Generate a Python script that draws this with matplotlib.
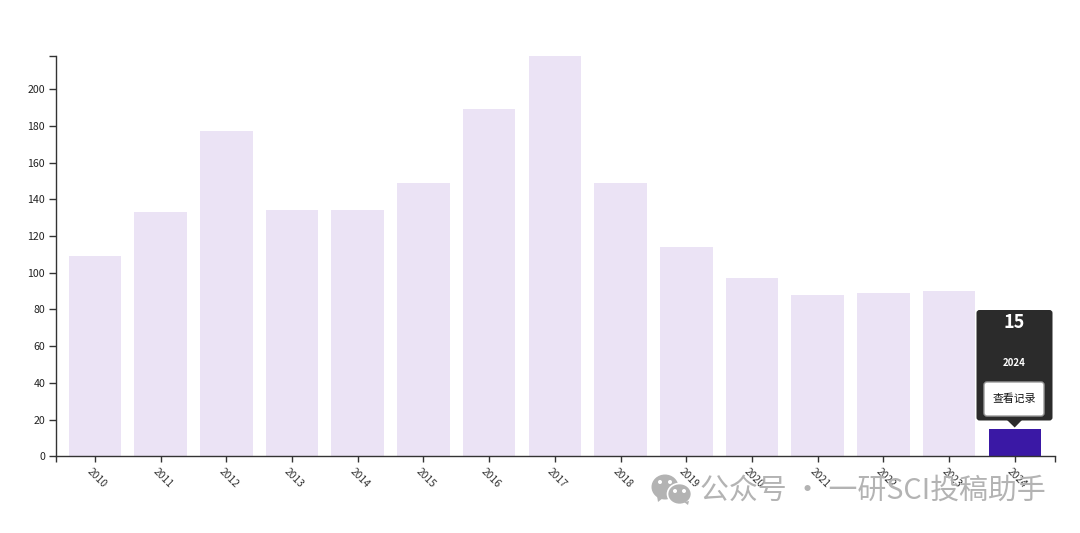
import matplotlib
matplotlib.use("Agg")
import matplotlib.pyplot as plt
from matplotlib.patches import FancyBboxPatch, Polygon, Ellipse
from matplotlib.transforms import Affine2D, ScaledTranslation

plt.rcParams['font.family'] = ['Noto Sans CJK SC', 'DejaVu Sans']

years = [2010, 2011, 2012, 2013, 2014, 2015, 2016, 2017, 2018, 2019, 2020, 2021, 2022, 2023, 2024]
counts = [109, 133, 177, 134, 134, 149, 189, 218, 149, 114, 97, 88, 89, 90, 15]
y_ticks = list(range(0, 201, 20))
tooltip_value = "15"
tooltip_year = "2024"
tooltip_button = "查看记录"
watermark = "公众号 · 一研SCI投稿助手"

W, H = 1080, 533
fig = plt.figure(figsize=(W / 100, H / 100), dpi=100, facecolor='white')
L, R, T, B = 56, 1054.5, 56, 456.4
ax = fig.add_axes([L / W, 1 - B / H, (R - L) / W, (B - T) / H])

step = 65.72
x0 = 94.8
xlim = ((L - x0) / step, (R - x0) / step)
ymax = 218
positions = list(range(len(years)))
colors = ['#EBE3F5'] * (len(years) - 1) + ['#3A18A5']
ax.bar(positions, counts, width=0.8, color=colors, linewidth=0, zorder=2)
ax.set_xlim(xlim)
ax.set_ylim(0, ymax)

for s in ('top', 'right'):
    ax.spines[s].set_visible(False)
for s in ('left', 'bottom'):
    ax.spines[s].set_linewidth(1.0)
    ax.spines[s].set_color('#333333')
    ax.spines[s].set_zorder(5)

ax.set_xticks(positions)
ax.set_xticklabels(years, rotation=-45, ha='center', va='top', rotation_mode='default',
                   fontsize=7.4, color='#333333')
ax.set_yticks(y_ticks)
ax.set_yticklabels(y_ticks, fontsize=7.6, color='#222222')
ax.set_xticks(list(xlim), minor=True)
ax.set_yticks([ymax], minor=True)
ax.tick_params(axis='x', which='both', length=4.4, width=1, color='#333333', pad=2.5)
ax.tick_params(axis='y', which='both', length=5, width=1, color='#333333', pad=2.8)
shift = ScaledTranslation(2.2 / 100, 0, fig.dpi_scale_trans)
for lab in ax.get_xticklabels():
    lab.set_transform(lab.get_transform() + shift)

# pixel coordinates helper: origin at top left of the reference image
px = Affine2D().scale(1 / W, -1 / H).translate(0, 1) + fig.transFigure


def box(x1, y1, x2, y2, r, **kw):
    p = FancyBboxPatch((x1, y1), x2 - x1, y2 - y1, boxstyle=f"round,pad=0,rounding_size={r}",
                       transform=px, clip_on=False, **kw)
    fig.add_artist(p)


box(976.5, 310, 1052.5, 420.5, 3, facecolor='#2B2B2B', edgecolor='none', zorder=6)
fig.add_artist(Polygon([(1007, 420), (1022, 420), (1014.7, 427.5)], closed=True,
                       transform=px, facecolor='#2B2B2B', edgecolor='none', zorder=6))
box(984, 382, 1044, 416, 3, facecolor='white', edgecolor='#9a9a9a', linewidth=1, zorder=7)
fig.text(1014.5 / W, 1 - 322 / H, tooltip_value, color='white', fontsize=13, fontweight='bold',
         ha='center', va='center', family=['Noto Sans CJK SC'], zorder=8)
fig.text(1014.5 / W, 1 - 363 / H, tooltip_year, color='white', fontsize=7, fontweight='bold',
         ha='center', va='center', zorder=8)
fig.text(1014.5 / W, 1 - 399 / H, tooltip_button, color='#111111', fontsize=7.8,
         ha='center', va='center', zorder=8)

# watermark
wm = '#B3B3B3'
fig.add_artist(Ellipse((665, 487), 27, 25, transform=px, facecolor=wm, edgecolor='white', linewidth=0, zorder=9))
fig.add_artist(Polygon([(657, 496), (663, 498), (658, 502)], transform=px, facecolor=wm, edgecolor='none', zorder=9))
fig.add_artist(Ellipse((679.5, 494), 24, 21, transform=px, facecolor=wm, edgecolor='white', linewidth=1.2, zorder=10))
fig.add_artist(Polygon([(684, 502), (689, 501), (688, 505)], transform=px, facecolor=wm, edgecolor='none', zorder=10))
for cx, cy in [(660, 482), (670, 482), (675, 491), (684, 491)]:
    fig.add_artist(Ellipse((cx, cy), 4, 4, transform=px, facecolor='white', edgecolor='none', zorder=11))
fig.text(700 / W, 1 - 491 / H, watermark, color=wm, fontsize=20.8, ha='left', va='center', zorder=9)

fig.savefig('out.png', dpi=100)
